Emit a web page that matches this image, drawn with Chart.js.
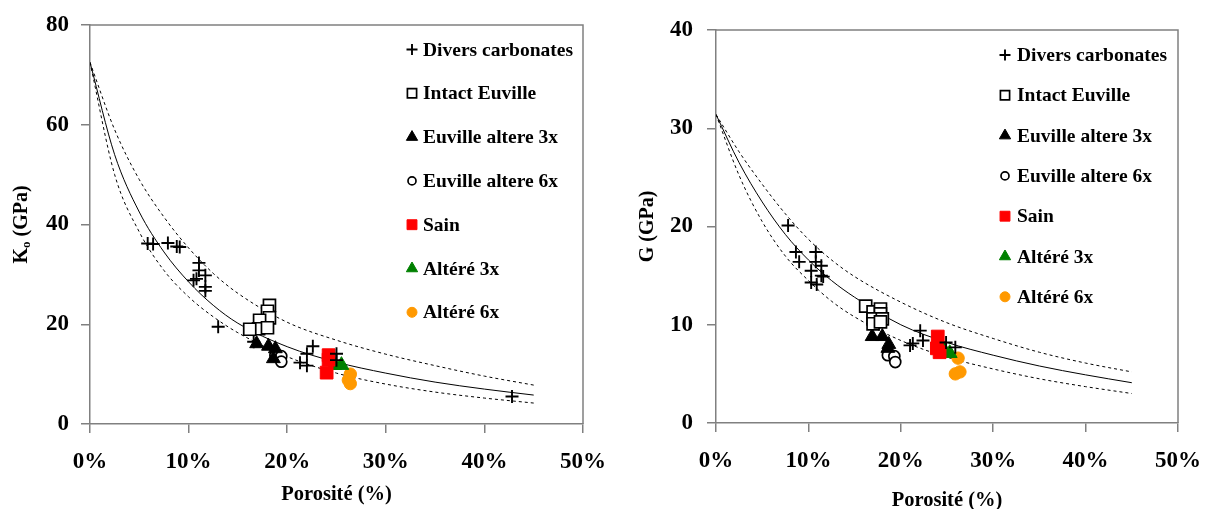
<!DOCTYPE html>
<html>
<head>
<meta charset="utf-8">
<script src="https://cdn.jsdelivr.net/npm/chart.js@4.4.0/dist/chart.umd.min.js"></script>
<style>
  html, body { margin: 0; padding: 0; background: #fff; overflow: hidden; width: 1205px; height: 509px; }
  canvas { position: absolute; left: 0; top: 0; }
</style>
</head>
<body>
<canvas id="chartK" width="1205" height="530"></canvas>
<canvas id="chartG" width="1205" height="530"></canvas>
<script>
// model curves (porosity in %)
const porosityGrid = [0, 2.5, 5, 7.5, 10, 12.5, 15, 20, 25, 30, 35, 40, 45];
const kModel = [72.5, 54, 42.5, 34.5, 28.5, 23.8, 20.2, 15.5, 12.4, 10.2, 8.4, 7, 5.8];
const kUpper = [72.5, 59, 49, 41.5, 35.3, 30.2, 26.2, 20.4, 16.8, 14, 11.7, 9.6, 7.8];
const kLower = [72.5, 50, 38.5, 30.8, 25.5, 21.5, 18.3, 13.5, 10.2, 8, 6.4, 5.2, 4.2];
const gModel = [31.4, 26.5, 22.5, 19.2, 16.6, 14.5, 12.8, 10, 8.2, 6.9, 5.8, 4.9, 4.1];
const gUpper = [31.4, 27.6, 24.3, 21.3, 18.7, 16.6, 14.9, 12.3, 10.2, 8.6, 7.2, 6.1, 5.2];
const gLower = [31.4, 25.2, 20.5, 17, 14.5, 12.4, 10.8, 8.4, 6.7, 5.5, 4.5, 3.7, 3.0];

// measurements [porosity %, GPa]
const carbonatesK = [[5.85, 36.2], [6.4, 36.1], [7.9, 36.3], [8.8, 35.6], [9.1, 35.5], [11.05, 32.3], [11.05, 30.8],
  [11.7, 29.8], [10.5, 28.8], [10.8, 29.1], [11.7, 27.5], [11.7, 26.7], [13.0, 19.5], [16.6, 16.5], [22.6, 15.6],
  [22.0, 14.1], [21.3, 12.3], [22.0, 11.7], [25.0, 14.1], [25.0, 12.8], [42.8, 5.5]];
const intactK = [[18.2, 23.8], [18.0, 22.6], [18.2, 21.3], [17.2, 20.8], [17.1, 19.1], [16.2, 19.0], [18.0, 19.3]];
const euville3K = [[16.9, 16.1], [18.1, 15.6], [18.8, 15.1], [18.6, 13.1]];
const euville6K = [[18.8, 13.8], [19.4, 13.6], [19.4, 12.5]];
const sainK = [[24.2, 13.8], [24.2, 12.9], [24.0, 10.3]];
const altere3K = [[24.8, 11.8], [25.5, 11.8]];
const altere6K = [[26.4, 10.0], [26.2, 8.8], [26.4, 8.1]];

const carbonatesG = [[7.8, 20.1], [8.65, 17.4], [9.0, 16.4], [10.8, 17.4], [10.8, 16.4], [11.4, 16.0], [10.3, 15.5],
  [11.4, 15.0], [11.6, 14.9], [10.3, 14.3], [10.9, 14.1], [22.1, 9.4], [22.4, 8.4], [21.3, 8.1], [21.0, 7.9],
  [24.9, 8.2], [25.9, 7.7]];
const intactG = [[16.2, 11.9], [17.0, 11.3], [17.8, 11.6], [17.8, 11.1], [17.0, 10.6], [18.0, 10.6], [17.0, 10.1], [17.8, 10.3]];
const euville3G = [[16.9, 8.8], [18.0, 8.8], [18.7, 8.0], [18.6, 7.6]];
const euville6G = [[18.6, 6.9], [19.3, 6.8], [19.4, 6.2]];
const sainG = [[24.0, 8.8], [23.9, 7.6], [24.2, 7.2]];
const altere3G = [[24.4, 7.9], [25.3, 7.1]];
const altere6G = [[26.2, 6.6], [26.4, 5.2], [25.9, 5.0]];

const seriesLabels = ['Divers carbonates', 'Intact Euville', 'Euville altere 3x', 'Euville altere 6x', 'Sain', 'Altéré 3x', 'Altéré 6x'];
const xTicks = [0, 10, 20, 30, 40, 50];

const AXIS_GREY = '#808080';
const SERIF = "'Liberation Serif', 'Times New Roman', serif";

const markerStyles = [
  { pointStyle: 'cross', pointRadius: 6.5, pointBackgroundColor: '#000', pointBorderColor: '#000', pointBorderWidth: 1.9, legendRadius: 5.5 },
  { pointStyle: 'rect', pointRadius: 8.5, pointBackgroundColor: '#fff', pointBorderColor: '#000', pointBorderWidth: 1.7, legendRadius: 6.5 },
  { pointStyle: 'triangle', pointRadius: 8, pointBackgroundColor: '#000', pointBorderColor: '#000', pointBorderWidth: 1, legendRadius: 6.5 },
  { pointStyle: 'circle', pointRadius: 5.5, pointBackgroundColor: '#fff', pointBorderColor: '#000', pointBorderWidth: 1.7, legendRadius: 4 },
  { pointStyle: 'rect', pointRadius: 9, pointBackgroundColor: '#ff0000', pointBorderColor: '#ff0000', pointBorderWidth: 1, legendRadius: 7 },
  { pointStyle: 'triangle', pointRadius: 8.5, pointBackgroundColor: '#008000', pointBorderColor: '#008000', pointBorderWidth: 1, legendRadius: 6.5 },
  { pointStyle: 'circle', pointRadius: 6.2, pointBackgroundColor: '#ff9900', pointBorderColor: '#ff9900', pointBorderWidth: 1, legendRadius: 5 }
];

function curve(values, dashed) {
  return {
    type: 'line',
    data: porosityGrid.map((p, i) => ({ x: p, y: values[i] })),
    borderColor: '#000',
    borderWidth: 1,
    borderDash: dashed ? [3, 3] : [],
    pointRadius: 0,
    fill: false,
    cubicInterpolationMode: 'monotone',
    order: 2
  };
}

function markers(i, points) {
  return Object.assign({
    type: 'scatter',
    label: seriesLabels[i],
    data: points.map(([x, y]) => ({ x, y })),
    order: 1
  }, markerStyles[i]);
}

// top and right edges of the plot box
const framePlugin = {
  id: 'frame',
  afterDraw(chart) {
    const { ctx, chartArea: a } = chart;
    ctx.save();
    ctx.strokeStyle = AXIS_GREY;
    ctx.lineWidth = 1.5;
    ctx.beginPath();
    ctx.moveTo(a.left, a.top);
    ctx.lineTo(a.right, a.top);
    ctx.lineTo(a.right, a.bottom);
    ctx.stroke();
    ctx.restore();
  }
};

// legend drawn inside the plot area
const insideLegend = {
  id: 'insideLegend',
  afterDraw(chart, args, opts) {
    const ctx = chart.ctx;
    ctx.save();
    ctx.font = opts.font;
    ctx.textBaseline = 'middle';
    let y = opts.top;
    chart.data.datasets.forEach(ds => {
      if (!ds.legendRadius) return;
      ctx.fillStyle = ds.pointBackgroundColor;
      ctx.strokeStyle = ds.pointBorderColor;
      ctx.lineWidth = ds.pointBorderWidth;
      Chart.helpers.drawPoint(ctx, { pointStyle: ds.pointStyle, radius: ds.legendRadius, borderWidth: ds.pointBorderWidth },
        opts.markerX, y);
      ctx.fillStyle = '#000';
      ctx.fillText(ds.label, opts.textX, y + 1);
      y += opts.step;
    });
    ctx.restore();
  }
};

// rotated y title, with optional subscript
const yTitle = {
  id: 'yTitle',
  afterDraw(chart, args, opts) {
    const { ctx, chartArea: a } = chart;
    const big = 'bold 20px ' + SERIF, small = 'bold 13px ' + SERIF;
    ctx.save();
    ctx.translate(opts.x, (a.top + a.bottom) / 2);
    ctx.rotate(-Math.PI / 2);
    ctx.textBaseline = 'middle';
    ctx.fillStyle = '#000';
    ctx.font = big;
    const w1 = ctx.measureText(opts.main).width, w3 = ctx.measureText(opts.rest).width;
    ctx.font = small;
    const w2 = opts.sub ? ctx.measureText(opts.sub).width : 0;
    let x = -(w1 + w2 + w3) / 2;
    ctx.font = big;
    ctx.fillText(opts.main, x, 0);
    x += w1;
    if (opts.sub) {
      ctx.font = small;
      ctx.fillText(opts.sub, x, 5);
      x += w2;
    }
    ctx.font = big;
    ctx.fillText(opts.rest, x, 0);
    ctx.restore();
  }
};

function buildChart(id, cfg) {
  return new Chart(document.getElementById(id), {
    data: {
      datasets: [
        curve(cfg.upper, true), curve(cfg.model, false), curve(cfg.lower, true),
        ...cfg.series.map((pts, i) => markers(i, pts))
      ]
    },
    options: {
      responsive: false,
      animation: false,
      layout: { padding: cfg.padding },
      plugins: {
        legend: { display: false },
        tooltip: { enabled: false },
        insideLegend: cfg.legend,
        yTitle: cfg.yTitle
      },
      scales: {
        x: {
          type: 'linear', min: 0, max: 50,
          afterBuildTicks: s => { s.ticks = xTicks.map(v => ({ value: v })); },
          ticks: {
            callback: v => v + '%', padding: 15.5, color: '#000', maxRotation: 0,
            font: { family: SERIF, size: 23, weight: 'bold' }
          },
          grid: { drawOnChartArea: false, color: AXIS_GREY, tickLength: 9, lineWidth: 1.5 },
          border: { color: AXIS_GREY, width: 1.5 },
          title: {
            display: true, text: 'Porosité (%)', color: '#000',
            font: { family: SERIF, size: 20.5, weight: 'bold' },
            padding: { top: 0, bottom: cfg.xTitlePad }
          },
          afterFit(s) { s.height = cfg.xAxisHeight; s.paddingLeft = 0; s.paddingRight = 0; }
        },
        y: {
          type: 'linear', min: 0, max: cfg.yMax,
          afterBuildTicks: s => { s.ticks = cfg.yTicks.map(v => ({ value: v })); },
          ticks: {
            padding: cfg.yTickPad, color: '#000',
            font: { family: SERIF, size: 23, weight: 'bold' }
          },
          grid: { drawOnChartArea: false, color: AXIS_GREY, tickLength: 9, lineWidth: 1.5 },
          border: { color: AXIS_GREY, width: 1.5 },
          afterFit(s) { s.width = cfg.yAxisWidth; s.paddingTop = 0; s.paddingBottom = 0; }
        }
      }
    },
    plugins: [framePlugin, insideLegend, yTitle]
  });
}

buildChart('chartK', {
  model: kModel, upper: kUpper, lower: kLower,
  series: [carbonatesK, intactK, euville3K, euville6K, sainK, altere3K, altere6K],
  yMax: 80, yTicks: [0, 20, 40, 60, 80],
  padding: { left: 0, top: 25, right: 622, bottom: 0 },
  yAxisWidth: 90, yTickPad: 12, xAxisHeight: 106, xTitlePad: 23,
  legend: { markerX: 412, textX: 423, top: 49.5, step: 43.8, font: 'bold 19.5px ' + SERIF },
  yTitle: { x: 22, main: 'K', sub: 'o', rest: ' (GPa)' }
});

buildChart('chartG', {
  model: gModel, upper: gUpper, lower: gLower,
  series: [carbonatesG, intactG, euville3G, euville6G, sainG, altere3G, altere6G],
  yMax: 40, yTicks: [0, 10, 20, 30, 40],
  padding: { left: 600, top: 30, right: 27, bottom: 0 },
  yAxisWidth: 116, yTickPad: 14, xAxisHeight: 107, xTitlePad: 17,
  legend: { markerX: 1005, textX: 1017, top: 55, step: 40.3, font: 'bold 19.5px ' + SERIF },
  yTitle: { x: 648, main: 'G', sub: '', rest: ' (GPa)' }
});
</script>
</body>
</html>
